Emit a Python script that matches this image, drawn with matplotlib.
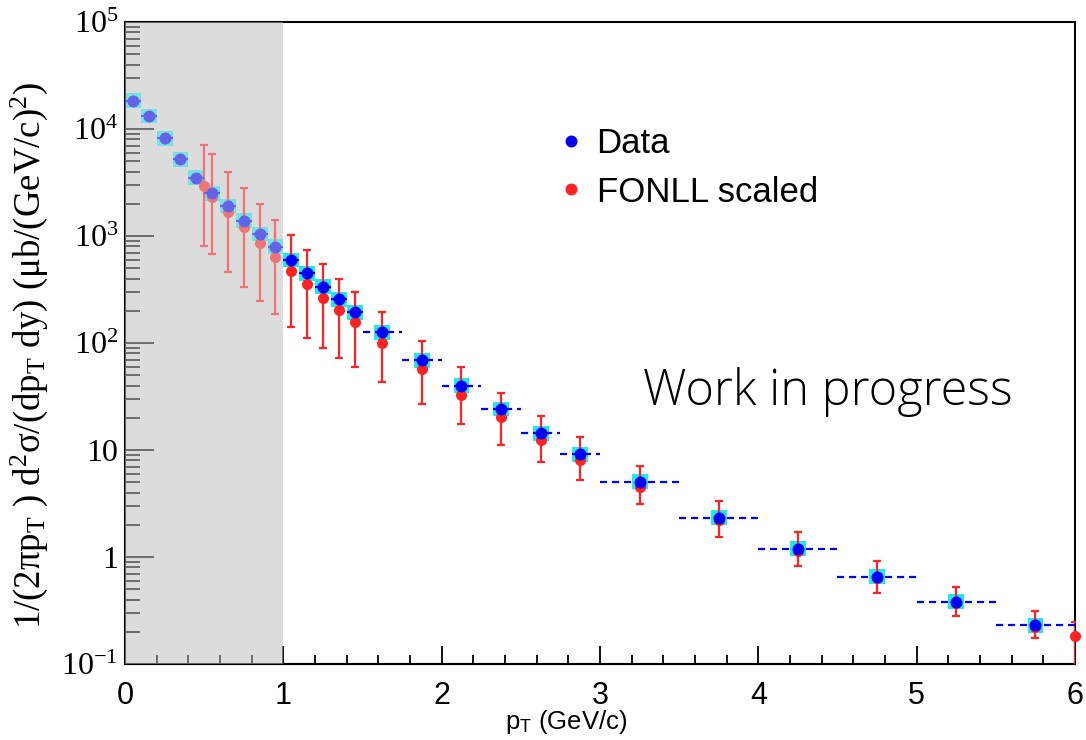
import matplotlib
matplotlib.use("Agg")
import matplotlib.pyplot as plt
import numpy as np
from matplotlib.ticker import LogLocator, MultipleLocator, NullFormatter
from matplotlib.lines import Line2D

# ---------------- data ----------------
data_pt = [0.05, 0.15, 0.25, 0.35, 0.45, 0.55, 0.65, 0.75, 0.85, 0.95,
           1.05, 1.15, 1.25, 1.35, 1.45, 1.625, 1.875, 2.125, 2.375, 2.625,
           2.875, 3.25, 3.75, 4.25, 4.75, 5.25, 5.75]
data_halfwidth = [0.05] * 15 + [0.125] * 6 + [0.25] * 6
data_y = [18400, 13200, 8190, 5210, 3510, 2505, 1905, 1390, 1045, 794,
          597, 448, 336, 256, 194, 126, 69, 39.9, 24.2, 14.3,
          9.1, 5.06, 2.33, 1.20, 0.655, 0.382, 0.23]
data_sys = [0.17] * len(data_pt)

fonll_pt = [0.5, 0.55, 0.65, 0.75, 0.85, 0.95, 1.05, 1.15, 1.25, 1.35, 1.45,
            1.625, 1.875, 2.125, 2.375, 2.625, 2.875, 3.25, 3.75, 4.25, 4.75,
            5.25, 5.75, 6.0]
fonll_y = [2950, 2300, 1690, 1205, 865, 641, 474, 356, 265, 202, 157,
           100.7, 56.8, 32.7, 20.2, 12.4, 8.07, 4.48, 2.24, 1.15, 0.63,
           0.37, 0.222, 0.183]
fonll_hi = [7080, 5810, 3960, 2790, 1980, 1400, 1020, 745, 547, 399, 302,
            194, 104, 59.7, 34.3, 20.8, 13.3, 7.08, 3.32, 1.71, 0.92,
            0.529, 0.313, 0.248]
fonll_lo = [800, 680, 458, 336, 245, 187, 140, 111, 89.8, 72.9, 59.7,
            43.2, 26.7, 17.6, 11.2, 7.67, 5.25, 3.13, 1.55, 0.824, 0.458,
            0.281, 0.174, 0.05]

ytick_vals = [1e-1, 1, 10, 1e2, 1e3, 1e4, 1e5]
ytick_labels = [r"$\mathrm{10^{-1}}$", "1", "10", r"$\mathrm{10^{2}}$",
                r"$\mathrm{10^{3}}$", r"$\mathrm{10^{4}}$", r"$\mathrm{10^{5}}$"]
xtick_vals = [0, 1, 2, 3, 4, 5, 6]
legend_labels = ["Data", "FONLL scaled"]
shade_range = (0.0, 1.0)

# ---------------- style ----------------
plt.rcParams["mathtext.fontset"] = "custom"
plt.rcParams["mathtext.rm"] = "Liberation Serif"
plt.rcParams["mathtext.sf"] = "Liberation Sans"
plt.rcParams["mathtext.it"] = "Liberation Serif:italic"

BLUE = "#0000f5"
RED = "#ff2222"
CYAN = "#22e8e8"
GRAY = "#dcdcdc"

fig = plt.figure(figsize=(10.86, 7.40), dpi=100)
ax = fig.add_axes([125 / 1086, 1 - 664 / 740, 950 / 1086, 642 / 740])
ax.set_yscale("log")
ax.set_xlim(0, 6)
ax.set_ylim(1e-1, 1e5)

# shaded region background
ax.axvspan(*shade_range, color=GRAY, zorder=0, lw=0)

dpt = np.array(data_pt)
dy = np.array(data_y)
dhw = np.array(data_halfwidth)
dsys = np.array(data_sys)

# systematic boxes
ax.bar(dpt, dy * (1 + dsys) - dy / (1 + dsys), bottom=dy / (1 + dsys),
       width=0.1, color=CYAN, lw=0, zorder=2)

# FONLL
fpt = np.array(fonll_pt)
fy = np.array(fonll_y)
yerr = np.vstack([fy - np.array(fonll_lo), np.array(fonll_hi) - fy])
ax.errorbar(fpt, fy, yerr=yerr, fmt="none", ecolor=RED, elinewidth=1.6,
            capsize=3.2, capthick=1.6, zorder=3)
ax.plot(fpt, fy, "o", color=RED, ms=8.0, mec="none", zorder=4, clip_on=False)

# Data horizontal bars (dashed)
ax.hlines(dy, dpt - dhw, dpt + dhw, colors=BLUE, linestyles=(0, (3.2, 2.2)),
          lw=1.6, zorder=5)
ax.plot(dpt, dy, "o", color=BLUE, ms=8.6, mec="none", zorder=6)

# overlay on shaded region (covers points and axis)
ax.axvspan(*shade_range, color=GRAY, alpha=0.45, zorder=10, lw=0, clip_on=False)

# axes styling
for s in ax.spines.values():
    s.set_linewidth(1.5)
    s.set_color("black")

ax.set_yticks(ytick_vals)
ax.set_yticklabels(ytick_labels, fontfamily="Liberation Serif", fontsize=23)
ax.yaxis.set_minor_locator(LogLocator(base=10, subs=np.arange(2, 10), numticks=20))
ax.yaxis.set_minor_formatter(NullFormatter())
ax.tick_params(axis="y", which="major", direction="in", length=21, width=1.3,
               pad=5, right=False)
ax.tick_params(axis="y", which="minor", direction="in", length=10.5, width=1.3,
               right=False)

ax.set_xticks(xtick_vals)
ax.set_xticklabels([str(v) for v in xtick_vals],
                   fontfamily=["Liberation Sans Narrow", "Liberation Sans"],
                   fontsize=22)
ax.xaxis.set_minor_locator(MultipleLocator(0.2))
ax.tick_params(axis="x", which="major", direction="in", length=13, width=1.3,
               pad=12, top=False)
ax.tick_params(axis="x", which="minor", direction="in", length=6.5, width=1.3,
               top=False)

ax.set_xlabel(r"p$_\mathsf{T}$ (GeV/c)",
              fontfamily=["Liberation Sans Narrow", "Liberation Sans"],
              fontsize=18.5)
ax.xaxis.set_label_coords(0.464, -0.068)
ax.set_ylabel(r"1/(2πp$_\mathrm{T}$ ) d$^\mathrm{2}$σ/(dp$_\mathrm{T}$ dy) "
              r"(μb/(GeV/c)$^\mathrm{2}$)",
              fontfamily="Liberation Serif", fontsize=26.5)
ax.yaxis.set_label_coords(-0.079, 0.48)

# legend
handles = [Line2D([], [], ls="none", marker="o", color=BLUE, ms=8.6, mec="none"),
           Line2D([], [], ls="none", marker="o", color=RED, ms=8.6, mec="none")]
leg = ax.legend(handles, legend_labels, loc="center left",
                bbox_to_anchor=(0.458, 0.773), frameon=False,
                prop={"family": "Liberation Sans", "size": 25},
                handlelength=0.6, handletextpad=0.45, labelspacing=0.45,
                borderpad=0, borderaxespad=0)
leg.set_zorder(20)

ax.text(0.545, 0.4034, "Work in progress", transform=ax.transAxes,
        fontfamily="Open Sans", fontweight="light", fontsize=35, va="baseline",
        ha="left", zorder=20)

fig.savefig("out.png", dpi=100)
